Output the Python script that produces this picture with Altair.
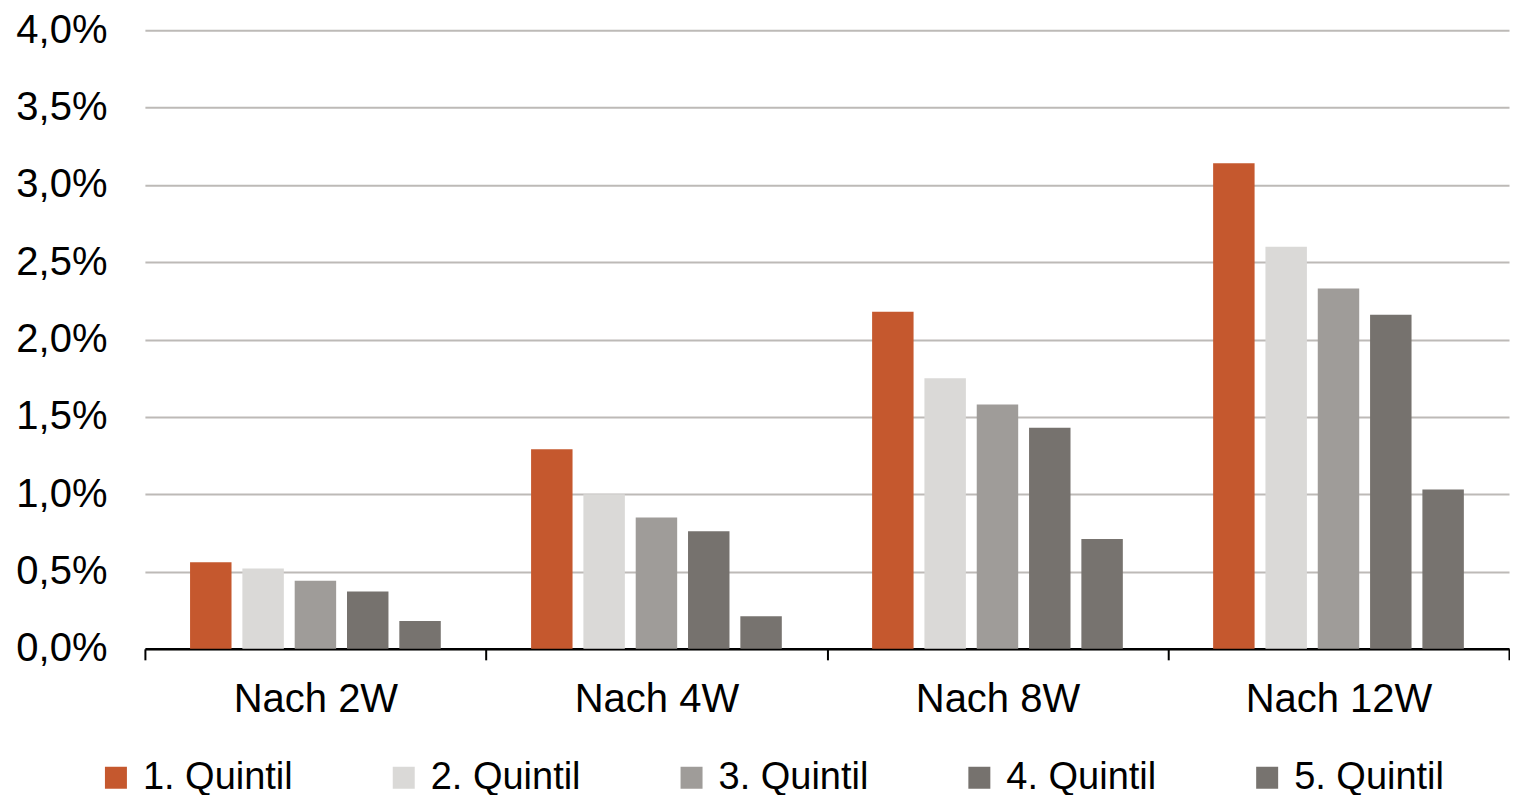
import altair as alt
import pandas as pd

categories = ["Nach 2W", "Nach 4W", "Nach 8W", "Nach 12W"]
quintiles = ["1. Quintil", "2. Quintil", "3. Quintil", "4. Quintil", "5. Quintil"]
q1 = [0.56, 1.29, 2.18, 3.14]
q2 = [0.52, 1.00, 1.75, 2.60]
q3 = [0.44, 0.85, 1.58, 2.33]
q4 = [0.37, 0.76, 1.43, 2.16]
q5 = [0.18, 0.21, 0.71, 1.03]
colors = ["#C5582E", "#DAD9D7", "#9F9C99", "#76726E", "#77736F"]
y_ticks = [0, 0.5, 1.0, 1.5, 2.0, 2.5, 3.0, 3.5, 4.0]

rows = []
for qname, vals in zip(quintiles, [q1, q2, q3, q4, q5]):
    for cat, v in zip(categories, vals):
        rows.append({"Periode": cat, "Quintil": qname, "Wert": v})
df = pd.DataFrame(rows)

FONT = "Liberation Sans"

chart = alt.Chart(df).mark_bar().encode(
    x=alt.X("Periode:N", sort=categories,
            scale=alt.Scale(paddingInner=0, paddingOuter=0),
            axis=alt.Axis(title=None, labelAngle=0, labelFontSize=40, labelColor="black",
                          labelFont=FONT, labelLimit=400, domainColor="black", domainWidth=2.5,
                          tickColor="black", tickWidth=2, tickSize=11, tickBand="extent",
                          labelPadding=20, grid=False)),
    xOffset=alt.XOffset("Quintil:N", sort=quintiles,
                        scale=alt.Scale(paddingInner=0.2075, paddingOuter=0.863)),
    y=alt.Y("Wert:Q", scale=alt.Scale(domain=[0, 4], nice=False),
            axis=alt.Axis(title=None, values=y_ticks, domain=False, ticks=False,
                          labelFontSize=40, labelColor="black", labelFont=FONT,
                          labelPadding=38, gridColor="#BDBAB7", gridWidth=2,
                          labelExpr="replace(format(datum.value, '.1f'), '.', ',') + '%'")),
    color=alt.Color("Quintil:N", sort=quintiles,
                    scale=alt.Scale(domain=quintiles, range=colors),
                    legend=alt.Legend(title=None, orient="none", legendX=-48, legendY=729,
                                      direction="horizontal", columns=5,
                                      symbolType="square", symbolSize=484,
                                      symbolStrokeWidth=0, labelFontSize=38,
                                      labelFont=FONT, labelColor="black",
                                      labelOffset=8, columnPadding=92,
                                      labelLimit=400)),
).properties(
    width=1365, height=619,
    padding={"left": 7, "top": 2, "right": 0, "bottom": 0},
).configure_view(stroke=None)

chart.save("out.html", embed_options={"renderer": "svg", "actions": False})
